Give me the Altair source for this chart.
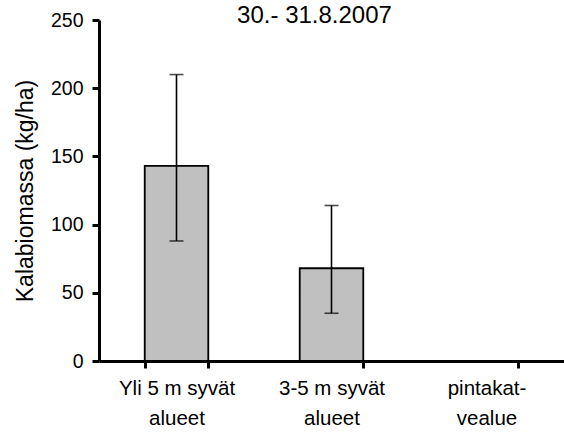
import altair as alt
import pandas as pd

categories = ["Yli 5 m syvät\nalueet", "3-5 m syvät\nalueet", "pintakat-\nvealue"]
values = [143, 68, 0]
err_low = [88, 35, None]
err_high = [210, 114, None]
y_ticks = [0, 50, 100, 150, 200, 250]

df = pd.DataFrame({"cat": categories, "val": values, "lo": err_low, "hi": err_high})

FONT = "Liberation Sans"
axis_style = dict(domain=True, ticks=True, grid=False, domainColor="#000000", domainWidth=3,
                  tickColor="#000000", tickWidth=3, tickSize=7, zindex=1,
                  labelFont=FONT, titleFont=FONT, labelColor="#000000", titleColor="#000000")

x = alt.X("cat:N", sort=categories,
          scale=alt.Scale(paddingInner=0.59, paddingOuter=0.295),
          axis=alt.Axis(title=None, labelAngle=0, tickBand="extent",
                        labelExpr="split(datum.label, '\\n')",
                        labelLineHeight=30, labelPadding=10,
                        labelFontSize=20.5, labelBaseline="top", **axis_style))
y = alt.Y("val:Q", scale=alt.Scale(domain=[0, 250], nice=False),
          axis=alt.Axis(title="Kalabiomassa (kg/ha)", values=y_ticks,
                        titleFontSize=23, titleFontWeight="normal",
                        titlePadding=13, labelPadding=9, labelFontSize=19.5, **axis_style))

base = alt.Chart(df)

bars = base.mark_bar(color="#C0C0C0", stroke="black", strokeWidth=1.8).encode(x=x, y=y)

eb = base.transform_filter("isValid(datum.lo)")
rule = eb.mark_rule(color="black", strokeWidth=1.6).encode(
    x=alt.X("cat:N", sort=categories), y=alt.Y("lo:Q"), y2="hi:Q")
cap_lo = eb.mark_tick(color="black", size=14, thickness=1.6, orient="horizontal").encode(
    x=alt.X("cat:N", sort=categories), y=alt.Y("lo:Q"))
cap_hi = eb.mark_tick(color="black", size=14, thickness=1.6, orient="horizontal").encode(
    x=alt.X("cat:N", sort=categories), y=alt.Y("hi:Q"))

chart = alt.layer(bars, rule, cap_lo, cap_hi).properties(
    width=465, height=341,
    title=alt.TitleParams("30.- 31.8.2007", fontSize=24, font=FONT, fontWeight="normal",
                          anchor="middle", frame="group", baseline="alphabetic",
                          offset=-37, dx=-17, color="black"),
    autosize=alt.AutoSizeParams(type="none"),
    padding={"left": 99, "top": 20, "right": 0, "bottom": 71},
    background="white",
).configure_view(stroke=None).configure_title(fontWeight="normal")

chart.save("out.html", embed_options={"renderer": "svg", "actions": False})
